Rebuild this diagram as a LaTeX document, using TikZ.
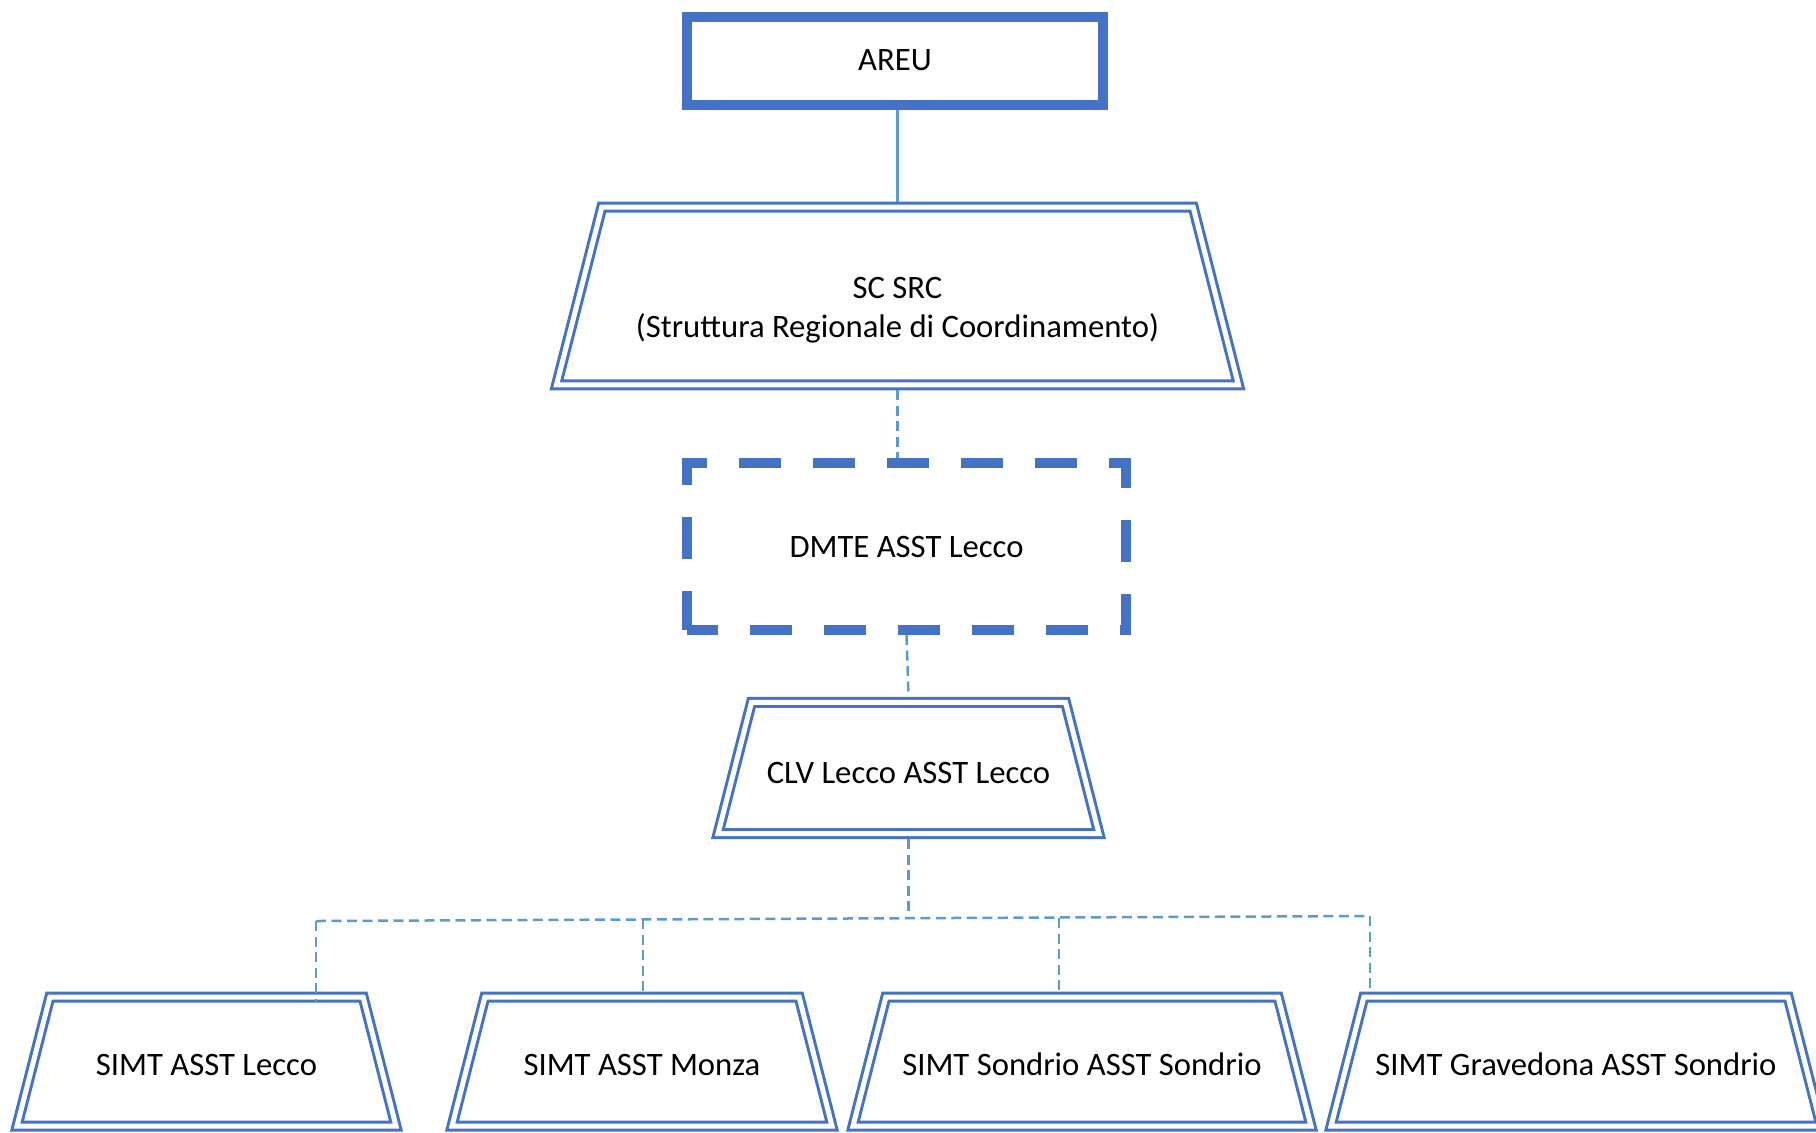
\documentclass[tikz,border=0pt]{standalone}
\usepackage{fontspec}
\setmainfont{Carlito}
\usepackage{xcolor}
\usetikzlibrary{shapes.geometric,positioning}
\definecolor{boxblue}{HTML}{4472C4}
\definecolor{lineblue}{HTML}{5B9BD5}

\tikzset{
  unitbox/.style={trapezium, trapezium left angle=75.7, trapezium right angle=75.7,
    trapezium stretches body, draw=boxblue, line width=0.3mm, double=white,
    double distance=0.5mm, outer sep=0.55mm, inner xsep=1mm, align=center},
  link/.style={draw=lineblue, line width=0.25mm},
  dlink/.style={link, dash pattern=on 1mm off 0.55mm},
}

\begin{document}
\begin{tikzpicture}[x=0.1mm, y=-0.1mm, font=\fontsize{9.3}{11.2}\selectfont]
  \useasboundingbox (0,0) rectangle (1816,1132);

  \node[draw=boxblue, line width=1mm, minimum width=41.6mm, minimum height=8.8mm] (areu) at (895,60.5) {AREU};
  \node[unitbox, minimum width=68.2mm, inner ysep=4.15mm] (scsrc) at (897.5,296) {\rule{0pt}{14.2pt}SC SRC\\(Struttura Regionale di Coordinamento)};
  \node[draw=boxblue, line width=1mm, dash pattern=on 4.2mm off 3.2mm, dash phase=1.1mm,
    minimum width=43.9mm, minimum height=16.7mm] (dmte) at (906.5,546.5) {DMTE ASST Lecco};
  \node[unitbox, minimum width=38.1mm, inner ysep=4.78mm, text height=9.5pt, text depth=0.7pt] (clv) at (908.5,768) {CLV Lecco ASST Lecco};

  \foreach \name/\x/\w/\txt in {lecco/206.5/379/SIMT ASST Lecco, monza/642/380/SIMT ASST Monza,
      sondrio/1082/458/SIMT Sondrio ASST Sondrio, graved/1576/490/SIMT Gravedona ASST Sondrio} {
    \node[unitbox, minimum width=\w*0.1mm, inner ysep=4.73mm, text height=9pt, text depth=0.8pt] (\name) at (\x,1061.5) {\txt};
  }

  \coordinate (b1) at (316,921);
  \coordinate (b2) at (643,919);
  \coordinate (b3) at (1059,918);
  \coordinate (b4) at (1370,916);

  \draw[link] (scsrc.north |- areu.south) -- (scsrc.north);
  \draw[dlink] (scsrc.south) -- (scsrc.south |- dmte.north);
  \draw[dlink] (dmte.south) -- (clv.north);
  \draw[dlink] (clv.south) -- (clv.south |- b3);

  \draw[dlink] (b1) -- (b4);
  \draw[dlink] (b1) -- (b1 |- lecco.north) -- ++(0,11);
  \foreach \b/\n in {b2/monza, b3/sondrio, b4/graved} {
    \draw[dlink] (\b) -- (\b |- \n.north);
  }
\end{tikzpicture}
\end{document}
